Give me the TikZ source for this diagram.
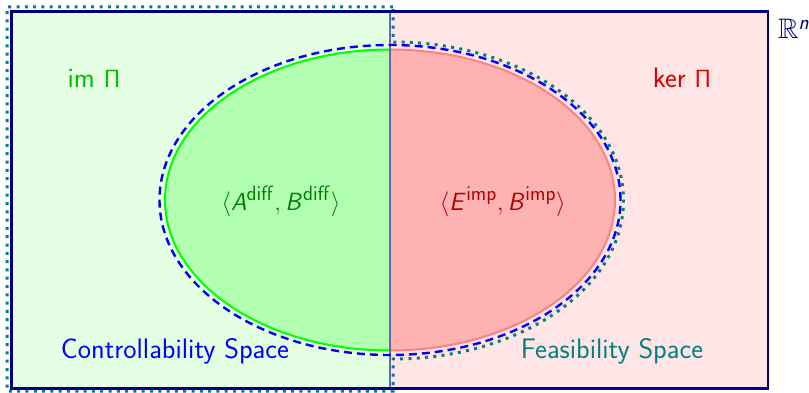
\documentclass[tikz,border=0pt]{standalone}
\usepackage{amssymb}
\DeclareMathAlphabet{\mathsfit}{OT1}{cmss}{m}{sl}
\begin{document}
\begin{tikzpicture}[x=1pt,y=1pt,
  lbl/.style={inner sep=0pt,anchor=base,font=\sffamily\fontsize{28.2}{32}\selectfont},
  outerbox/.style={draw=blue!50!black,line width=2.2pt},
  dashell/.style={draw=blue,line width=2.4pt,dash pattern=on 8pt off 5pt},
  dotreg/.style={draw=teal,line width=3pt,dash pattern=on 3pt off 5.3pt}]
\useasboundingbox (0,0) rectangle (809,392);
% backgrounds
\fill[green!10] (11.5,3.5) rectangle (390,380.5);
\fill[red!10] (390,3.5) rectangle (768,380.5);
% ellipse halves
\fill[green!30] (390,342.5) arc[start angle=90,end angle=270,x radius=225,y radius=150.5] -- cycle;
\fill[red!30] (390,41.5) arc[start angle=-90,end angle=90,x radius=225,y radius=150.5] -- cycle;
\draw[green,line width=2pt] (390,342.5) arc[start angle=90,end angle=270,x radius=225,y radius=150.5];
\draw[red!50,line width=2pt] (390,41.5) arc[start angle=-90,end angle=90,x radius=225,y radius=150.5];
% divider
\draw[blue!50!black!60,line width=1.2pt] (390,3.5) -- (390,380.5);
% blue dashed ellipse
\draw[dashell] (390,192) ellipse[x radius=230.5,y radius=155];
% teal dotted feasibility region
\draw[dotreg] (393,385) -- (7,385) -- (7,1) -- (393,1) -- (393,33)
  arc[start angle=-90,end angle=90,x radius=230.5,y radius=158.5] -- (393,385);
% outer rectangle
\draw[outerbox] (11.5,3.5) rectangle (768,380.5);
% labels
\node[lbl,text=green!75!black] (im) at (94,304.7) {im $\mathsf{\Pi}$};
\node[lbl,text=red!85!black] (ker) at (682,304.7) {ker $\mathsf{\Pi}$};
\node[lbl,anchor=base west,text=blue!50!black] (rn) at (778,353) {$\mathbb{R}^{\mathsfit{n}}$};
\node[lbl,text=green!50!black] (diff) at (281,182) {$\langle \mathsfit{A}^{\mathsf{diff}}, \mathsfit{B}^{\mathsf{diff}}\rangle$};
\node[lbl,text=red!70!black] (imp) at (502.7,182) {$\langle \mathsfit{E}^{\mathsf{imp}}, \mathsfit{B}^{\mathsf{imp}}\rangle$};
\node[lbl,text=blue] (ctrl) at (175,34) {Controllability Space};
\node[lbl,text=teal] (feas) at (612,34) {Feasibility Space};
\end{tikzpicture}
\end{document}
